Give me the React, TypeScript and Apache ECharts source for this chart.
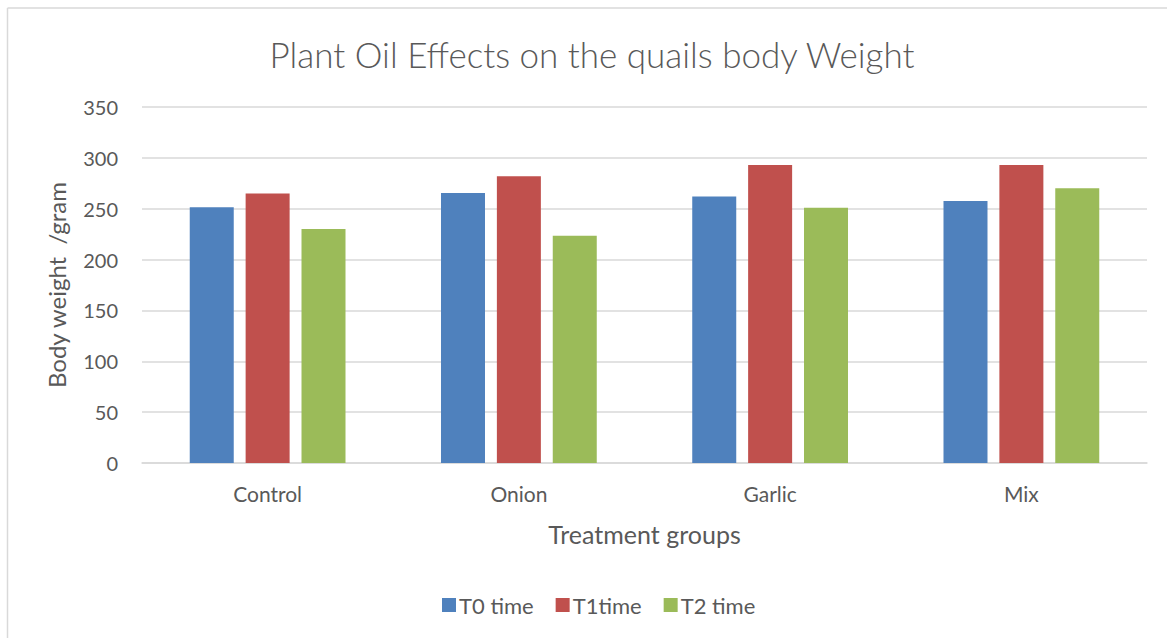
import React, { useEffect, useRef } from "react";
import * as echarts from "echarts";

const categories = ["Control", "Onion", "Garlic", "Mix"];
const seriesNames = ["T0 time", "T1time", "T2 time"];
const t0Values = [251.5, 265.5, 262, 257.5];
const t1Values = [265, 282, 293, 293];
const t2Values = [230, 223.5, 251, 270];
const colors = ["#4f81bd", "#c0504d", "#9bbb59"];

const FONT = "Lato";
const TEXT = "#595959";

export default function App() {
  const ref = useRef<HTMLDivElement>(null);
  useEffect(() => {
    if (!ref.current) return;
    const chart = echarts.init(ref.current, undefined, { renderer: "svg" });
    const values = [t0Values, t1Values, t2Values];
    chart.setOption({
      animation: false,
      backgroundColor: "#ffffff",
      textStyle: { fontFamily: FONT, color: TEXT },
      graphic: [
        {
          type: "line",
          shape: { x1: 7.5, y1: 8, x2: 1167, y2: 8 },
          style: { stroke: "#d9d9d9", lineWidth: 1.5 },
        },
        {
          type: "line",
          shape: { x1: 7.5, y1: 8, x2: 7.5, y2: 638 },
          style: { stroke: "#d9d9d9", lineWidth: 1.5 },
        },
        {
          type: "text",
          x: 592,
          y: 54,
          style: {
            text: "Plant Oil Effects on the quails body Weight",
            fontFamily: FONT,
            fontSize: 35,
            fontWeight: 300,
            fill: TEXT,
            align: "center",
            verticalAlign: "middle",
          },
        },
      ],
      legend: {
        data: seriesNames,
        left: 437,
        top: 589,
        icon: "rect",
        itemWidth: 14,
        itemHeight: 14,
        itemGap: 22,
        textStyle: { fontFamily: FONT, fontSize: 22, color: TEXT, padding: [0, 0, 0, -2] },
      },
      grid: { left: 142, right: 20, top: 107, bottom: 175, containLabel: false },
      xAxis: {
        type: "category",
        data: categories,
        name: "Treatment groups",
        nameLocation: "middle",
        nameGap: 58,
        nameTextStyle: { fontFamily: FONT, fontSize: 25, color: TEXT },
        axisLine: { lineStyle: { color: "#d9d9d9", width: 1.5 } },
        axisTick: { show: false },
        axisLabel: { fontFamily: FONT, fontSize: 21, color: TEXT, margin: 20 },
      },
      yAxis: {
        type: "value",
        min: 0,
        max: 350,
        interval: 50,
        name: "Body weight  /gram",
        nameLocation: "middle",
        nameGap: 74,
        nameRotate: 90,
        nameTextStyle: { fontFamily: FONT, fontSize: 24, color: TEXT },
        axisLine: { show: false },
        axisTick: { show: false },
        axisLabel: { fontFamily: FONT, fontSize: 20, color: TEXT, margin: 24 },
        splitLine: { lineStyle: { color: "#d9d9d9", width: 1.5 } },
      },
      series: seriesNames.map((name, i) => ({
        name,
        type: "bar",
        data: values[i],
        barWidth: 44,
        barGap: "27%",
        itemStyle: { color: colors[i] },
      })),
    });
    return () => chart.dispose();
  }, []);
  return (
    <div
      ref={ref}
      style={{ position: "absolute", left: 0, top: 0, width: 1167, height: 638 }}
    />
  );
}
